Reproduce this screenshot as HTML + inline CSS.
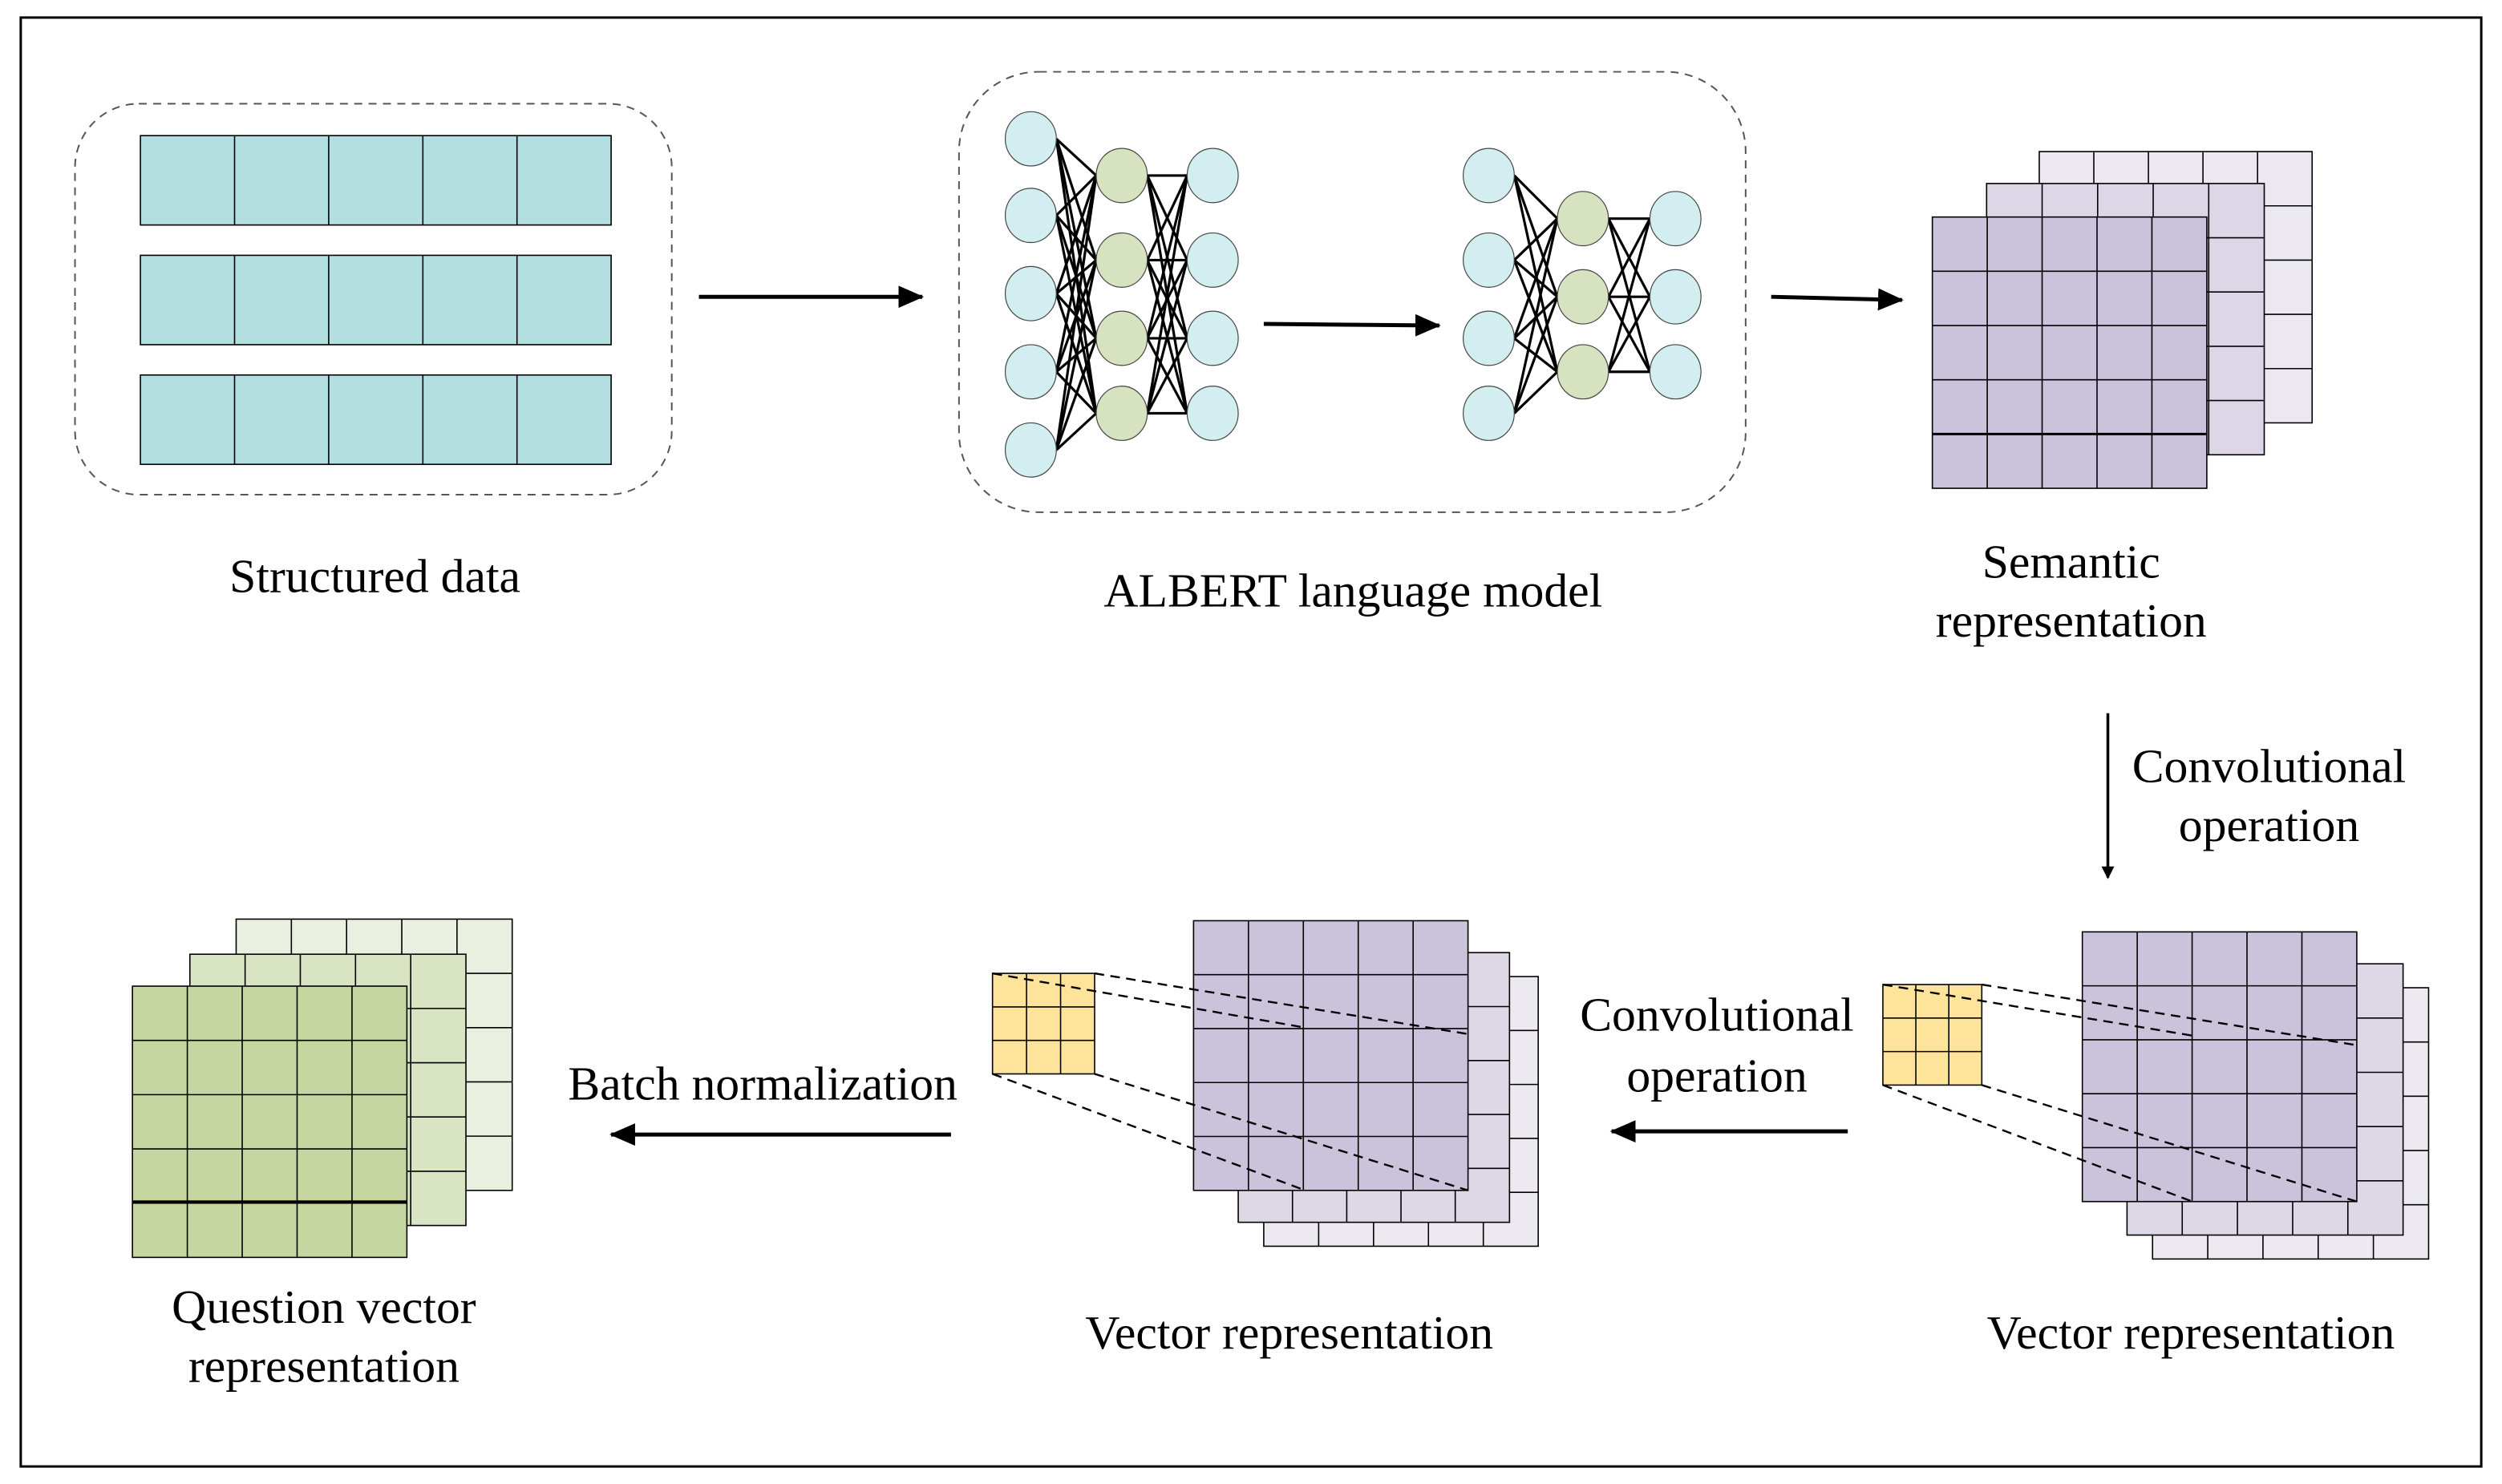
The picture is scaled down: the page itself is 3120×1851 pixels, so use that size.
<!DOCTYPE html>
<html><head><meta charset="utf-8"><style>
html,body{margin:0;padding:0;background:#fff}
svg{display:block}
text{font-family:"Liberation Serif",serif;font-size:30px;fill:#000;text-anchor:middle}
</style></head><body>
<svg id="s" width="3120" height="1851" viewBox="0 0 1568 930" preserveAspectRatio="none" xmlns="http://www.w3.org/2000/svg">
<defs><marker id="ah" markerWidth="8" markerHeight="8" refX="7" refY="4" orient="auto" markerUnits="userSpaceOnUse"><path d="M0,0 L8,4 L0,8 z" fill="#000"/></marker>
<marker id="ah2" markerWidth="16" markerHeight="14" refX="15" refY="7" orient="auto" markerUnits="userSpaceOnUse"><path d="M0,0 L16,7 L0,14 z" fill="#000"/></marker></defs>
<rect x="13" y="11" width="1542" height="908" fill="#fff" stroke="#000" stroke-width="1.5"/>
<rect x="47" y="65" width="374" height="245" rx="40" fill="none" stroke="#555" stroke-dasharray="5,4" stroke-width="1"/>
<rect x="601" y="45" width="493" height="276" rx="50" fill="none" stroke="#555" stroke-dasharray="5,4" stroke-width="1"/>
<g id="g"></g>
<g stroke="#000" stroke-width="2.5" fill="none">
<line x1="438" y1="186" x2="578" y2="186" marker-end="url(#ah2)"/>
<line x1="792" y1="203" x2="902" y2="204" marker-end="url(#ah2)"/>
<line x1="1110" y1="186" x2="1192" y2="188" marker-end="url(#ah2)"/>
<line x1="1321" y1="447" x2="1321" y2="550" stroke-width="1.8" marker-end="url(#ah)"/>
<line x1="1158" y1="709" x2="1010" y2="709" marker-end="url(#ah2)"/>
<line x1="596" y1="711" x2="383" y2="711" marker-end="url(#ah2)"/>
</g>
<text x="235" y="371">Structured data</text>
<text x="848" y="380">ALBERT language model</text>
<text x="1298" y="362">Semantic</text>
<text x="1298" y="399">representation</text>
<text x="1422" y="490">Convolutional</text>
<text x="1422" y="527">operation</text>
<text x="1076" y="646">Convolutional</text>
<text x="1076" y="684">operation</text>
<text x="478" y="689">Batch normalization</text>
<text x="808" y="845">Vector representation</text>
<text x="1373" y="845">Vector representation</text>
<text x="203" y="829">Question vector</text>
<text x="203" y="866">representation</text>
</svg>
<script>
var g=document.getElementById('g'),NS='http://www.w3.org/2000/svg';
function el(t,a){var e=document.createElementNS(NS,t);for(var k in a)e.setAttribute(k,a[k]);g.appendChild(e);return e;}
function grid(x,y,w,h,nc,nr,fill,sw){el('rect',{x:x,y:y,width:w,height:h,fill:fill,stroke:'#000','stroke-width':sw||1});
 for(var i=1;i<nc;i++)el('line',{x1:x+w*i/nc,y1:y,x2:x+w*i/nc,y2:y+h,stroke:'#000','stroke-width':sw||1});
 for(var j=1;j<nr;j++)el('line',{x1:x,y1:y+h*j/nr,x2:x+w,y2:y+h*j/nr,stroke:'#000','stroke-width':sw||1});}
[85,160,235].forEach(function(y){grid(88,y,295,56,5,1,'#b3dfe1',0.8)});
grid(1278,95,171,170,5,5,'#ece8f1',0.8);
grid(1245,115,174,170,5,5,'#ddd6e6',0.8);
grid(1211,136,172,170,5,5,'#cbc2db',0.8);
el('line',{x1:1211,y1:272,x2:1383,y2:272,stroke:'#000','stroke-width':1.5});
grid(1349,619,173,170,5,5,'#ece9f1',0.8);
grid(1333,604,173,170,5,5,'#ddd7e6',0.8);
grid(1305,584,172,169,5,5,'#cbc2db',0.8);
grid(1180,617,62,63,3,3,'#fde49a',0.8);
grid(792,612,172,169,5,5,'#ece9f1',0.8);
grid(776,597,170,169,5,5,'#ddd7e6',0.8);
grid(748,577,172,169,5,5,'#cbc2db',0.8);
grid(622,610,64,63,3,3,'#fde49a',0.8);
grid(148,576,173,170,5,5,'#e9f0df',0.8);
grid(119,598,173,170,5,5,'#d8e4c2',0.8);
grid(83,618,172,170,5,5,'#c5d6a0',0.8);
el('line',{x1:83,y1:753,x2:255,y2:753,stroke:'#000','stroke-width':1.5});
function dl(a,b,c,d){el('line',{x1:a,y1:b,x2:c,y2:d,stroke:'#000','stroke-width':1.2,'stroke-dasharray':'6,4'});}
dl(1180,617,1374,649);dl(1242,617,1477,655);dl(1180,680,1374,753);dl(1242,680,1477,753);
dl(622,610,818,644);dl(686,610,920,648);dl(622,673,818,746);dl(686,673,920,746);
function nn(L){var i,j,k;
 for(k=0;k<L.length-1;k++){var A=L[k],B=L[k+1];
  for(i=0;i<A.ys.length;i++)for(j=0;j<B.ys.length;j++)
   el('line',{x1:A.x+16,y1:A.ys[i],x2:B.x-16,y2:B.ys[j],stroke:'#000','stroke-width':1.6});}
 L.forEach(function(l){l.ys.forEach(function(y){el('ellipse',{cx:l.x,cy:y,rx:16,ry:17,fill:l.c,stroke:'#444','stroke-width':0.6});});});}
nn([{x:646,ys:[87,135,184,233,282],c:'#d3eef0'},{x:703,ys:[110,163,212,259],c:'#d6e2c0'},{x:760,ys:[110,163,212,259],c:'#d3eef0'}]);
nn([{x:933,ys:[110,163,212,259],c:'#d3eef0'},{x:992,ys:[137,186,233],c:'#d6e2c0'},{x:1050,ys:[137,186,233],c:'#d3eef0'}]);
</script>
</body></html>
